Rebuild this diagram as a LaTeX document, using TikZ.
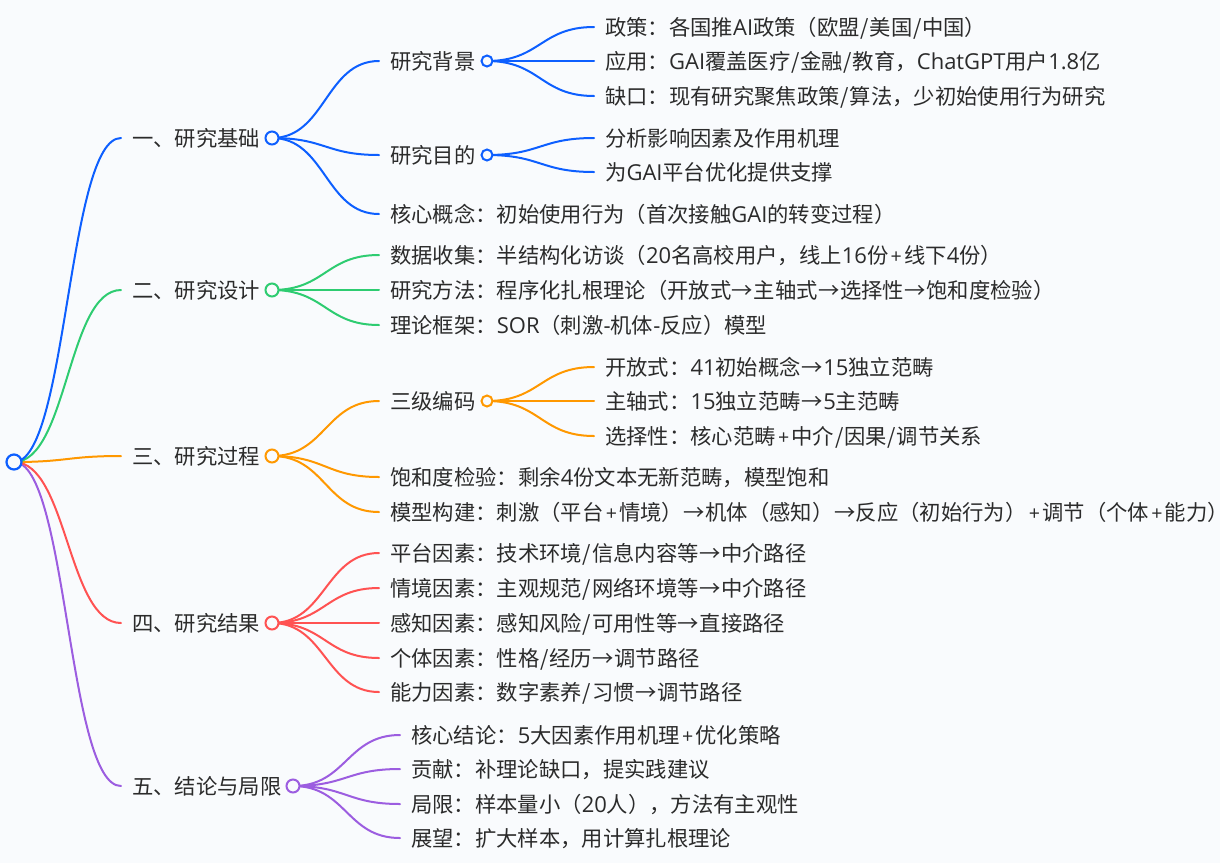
\documentclass[tikz,border=0pt]{standalone}
\usepackage{fontspec}
\setmainfont{Noto Sans CJK SC}[Scale=1]
\newfontfamily\latf{Open Sans}[Scale=1.03]
\newfontfamily\halff{Noto Sans CJK SC}[RawFeature=+halt]
\newcommand{\la}[1]{{\latf #1}}
\newcommand{\slh}{\kern.75pt/\kern.75pt}
\newcommand{\pl}{\makebox[15.8pt]{\latf\fontsize{19}{20}\selectfont +}}
\newcommand{\arw}{\kern.5pt→\kern.5pt}
\usetikzlibrary{calc}
\definecolor{bg}{HTML}{F9FBFD}
\definecolor{cA}{HTML}{0D5FFF}
\definecolor{cB}{HTML}{2ECC71}
\definecolor{cC}{HTML}{FF9800}
\definecolor{cD}{HTML}{FF5252}
\definecolor{cE}{HTML}{9C5DE0}
\definecolor{ink}{HTML}{2B2B2B}
\tikzset{
  x=1pt,y=-1pt,
  lbl/.style={anchor=west,inner xsep=0pt,inner ysep=0pt,text=ink,font=\fontsize{21.33}{24}\selectfont,text height=19pt,text depth=2pt,execute at begin node={\hspace*{11pt}}},
  dotA/.style={circle,fill=bg,line width=2pt,minimum size=13pt,inner sep=0pt},
  dotB/.style={circle,fill=bg,line width=2pt,minimum size=11pt,inner sep=0pt},
  dotR/.style={circle,fill=bg,line width=2.2pt,minimum size=15pt,inner sep=0pt},
  lnk/.style={line width=2pt,line cap=round},
}
\newcommand{\lk}[3]{\draw[lnk,#1] (#2.center) .. controls ($(#2.center)!0.5!(#2.center -| #3.west)$) and ($(#3.west)!0.5!(#2.center |- #3.west)$) .. (#3.west);}
\begin{document}
\begin{tikzpicture}
\useasboundingbox[fill=bg] (0,0) rectangle (1220,863);
\coordinate (root) at (14,462);
\node[lbl] (a) at (121,138) {一、研究基础};
\node[lbl] (b) at (121,290) {二、研究设计};
\node[lbl] (c) at (121,456) {三、研究过程};
\node[lbl] (d) at (121,623) {四、研究结果};
\node[lbl] (e) at (121,786) {五、结论与局限};
\node[lbl] (a1) at (379,61) {研究背景};
\node[lbl] (a2) at (379,155) {研究目的};
\node[lbl] (a3) at (379,214) {核心概念：初始使用行为（首次接触\la{GAI}的转变过程）};
\node[lbl] (a11) at (594,27) {政策：各国推\la{AI}政策（欧盟\slh 美国\slh 中国）};
\node[lbl] (a12) at (594,61) {应用：\la{GAI}覆盖医疗\slh 金融\slh 教育，\la{ChatGPT}用户\la{1.8}亿};
\node[lbl] (a13) at (594,96) {缺口：现有研究聚焦政策\slh 算法，少初始使用行为研究};
\node[lbl] (a21) at (594,138) {分析影响因素及作用机理};
\node[lbl] (a22) at (594,172) {为\la{GAI}平台优化提供支撑};
\node[lbl] (b1) at (379,255) {数据收集：半结构化访谈（\la{20}名高校用户，线上\la{16}份\pl 线下\la{4}份）};
\node[lbl] (b2) at (379,290) {研究方法：程序化扎根理论（开放式\arw 主轴式\arw 选择性\arw 饱和度检验）};
\node[lbl] (b3) at (379,325) {理论框架：\la{SOR}（刺激\la{-}机体\la{-}反应）模型};
\node[lbl] (c1) at (379,401) {三级编码};
\node[lbl] (c2) at (379,477) {饱和度检验：剩余\la{4}份文本无新范畴，模型饱和};
\node[lbl] (c3) at (379,512) {模型构建：刺激（平台\pl 情境）\arw 机体（感知）\arw 反应（初始行为）\pl 调节（个体\pl 能力{\halff ）}};
\node[lbl] (c11) at (594,367) {开放式：\la{41}初始概念\arw\la{15}独立范畴};
\node[lbl] (c12) at (594,401) {主轴式：\la{15}独立范畴\arw\la{5}主范畴};
\node[lbl] (c13) at (594,436) {选择性：核心范畴\pl 中介\slh 因果\slh 调节关系};
\node[lbl] (d1) at (379,553) {平台因素：技术环境\slh 信息内容等\arw 中介路径};
\node[lbl] (d2) at (379,588) {情境因素：主观规范\slh 网络环境等\arw 中介路径};
\node[lbl] (d3) at (379,623) {感知因素：感知风险\slh 可用性等\arw 直接路径};
\node[lbl] (d4) at (379,658) {个体因素：性格\slh 经历\arw 调节路径};
\node[lbl] (d5) at (379,692) {能力因素：数字素养\slh 习惯\arw 调节路径};
\node[lbl] (e1) at (400,735) {核心结论：\la{5}大因素作用机理\pl 优化策略};
\node[lbl] (e2) at (400,769) {贡献：补理论缺口，提实践建议};
\node[lbl] (e3) at (400,804) {局限：样本量小（\la{20}人），方法有主观性};
\node[lbl] (e4) at (400,838) {展望：扩大样本，用计算扎根理论};
\coordinate (pa) at (272,138);
\coordinate (pb) at (272,290);
\coordinate (pc) at (272,456);
\coordinate (pd) at (272,623);
\coordinate (pe) at (293,786);
\coordinate (pa1) at (487,61);
\coordinate (pa2) at (487,155);
\coordinate (pc1) at (487,401);
\lk{cE}{root}{e}\lk{cD}{root}{d}\lk{cC}{root}{c}\lk{cB}{root}{b}\lk{cA}{root}{a}
\foreach \t in {a1,a2,a3}{\lk{cA}{pa}{\t}}
\foreach \t in {a11,a12,a13}{\lk{cA}{pa1}{\t}}
\foreach \t in {a21,a22}{\lk{cA}{pa2}{\t}}
\foreach \t in {b1,b2,b3}{\lk{cB}{pb}{\t}}
\foreach \t in {c1,c2,c3}{\lk{cC}{pc}{\t}}
\foreach \t in {c11,c12,c13}{\lk{cC}{pc1}{\t}}
\foreach \t in {d1,d2,d3,d4,d5}{\lk{cD}{pd}{\t}}
\foreach \t in {e1,e2,e3,e4}{\lk{cE}{pe}{\t}}
\node[dotR,draw=cA] (rootdot) at (root) {};
\node[dotA,draw=cA] (da) at (pa) {};
\node[dotA,draw=cB] (db) at (pb) {};
\node[dotA,draw=cC] (dc) at (pc) {};
\node[dotA,draw=cD] (dd) at (pd) {};
\node[dotA,draw=cE] (de) at (pe) {};
\node[dotB,draw=cA] (da1) at (pa1) {};
\node[dotB,draw=cA] (da2) at (pa2) {};
\node[dotB,draw=cC] (dc1) at (pc1) {};
\end{tikzpicture}
\end{document}
